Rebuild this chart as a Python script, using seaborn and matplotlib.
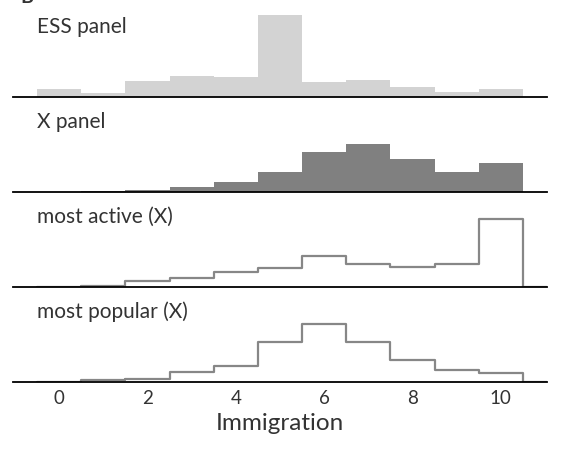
import numpy as np
import pandas as pd
import matplotlib
matplotlib.use("Agg")
import matplotlib.pyplot as plt
import seaborn as sns

# immigration scale 0..10, share of respondents / users per answer (%)
scores = list(range(11))
ess_panel = [3.8, 1.9, 7.9, 10.3, 9.7, 39.3, 7.5, 8.3, 4.8, 2.7, 4.0]
x_panel = [0.0, 0.3, 0.8, 2.2, 4.6, 9.4, 19.1, 23.2, 15.7, 9.4, 13.8]
most_active = [0.0, 0.6, 2.7, 4.5, 7.0, 9.2, 15.1, 10.8, 9.5, 11.1, 32.6]
most_popular = [0.0, 0.8, 1.6, 4.9, 7.8, 19.1, 27.7, 19.4, 10.7, 5.9, 4.3]
panel_names = ["ESS panel", "X panel", "most active (X)", "most popular (X)"]

sns.set_style("white")
plt.rcParams["font.family"] = ["Lato", "DejaVu Sans"]
plt.rcParams["text.color"] = "#333333"

fig, axes = plt.subplots(4, 1, figsize=(5.84, 4.68), dpi=100, sharex=True, sharey=True)
fig.subplots_adjust(left=0.022, right=0.937, top=0.976, bottom=0.184, hspace=0.105)

series = [ess_panel, x_panel, most_active, most_popular]
for i, (ax, vals, name) in enumerate(zip(axes, series, panel_names)):
    df = pd.DataFrame({"score": scores, "pct": vals})
    if i == 0:
        sns.histplot(data=df, x="score", weights="pct", discrete=True, ax=ax,
                     color="#d3d3d3", alpha=1, linewidth=0, element="step")
    elif i == 1:
        sns.histplot(data=df, x="score", weights="pct", discrete=True, ax=ax,
                     color="#808080", alpha=1, linewidth=0, element="step")
    else:
        # one empty bin past 10 so the outline closes down to the baseline at 10.5
        sns.histplot(data=df, x="score", weights="pct", binwidth=1, binrange=(-0.5, 11.5),
                     ax=ax, element="step", fill=False, color="#878787", linewidth=1.6)
    ax.text(0.046, 0.744, name, transform=ax.transAxes, fontsize=15, va="baseline")
    for s in ["top", "left", "right"]:
        ax.spines[s].set_visible(False)
    ax.spines["bottom"].set_color("black")
    ax.spines["bottom"].set_linewidth(1.3)
    ax.spines["bottom"].set_zorder(5)
    ax.set_yticks([])
    ax.set_ylabel("")
    ax.set_xlabel("")
    ax.tick_params(axis="x", length=0, labelsize=13.5, labelcolor="#333333", pad=6)

axes[-1].set_xlim(-1.05, 11.05)
axes[-1].set_xticks([0, 2, 4, 6, 8, 10])
axes[-1].set_xlabel("Immigration", fontsize=17.5, color="#333333", labelpad=4)

fig.text(20 / 584, 1 - 3 / 468, "B", fontsize=14, fontweight="bold", va="baseline", ha="left")

fig.savefig("out.png", dpi=100)
